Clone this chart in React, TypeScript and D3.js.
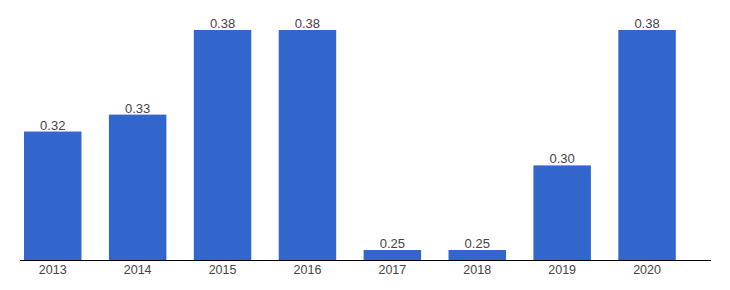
import React from "react";
import * as d3 from "d3";

const years = ["2013", "2014", "2015", "2016", "2017", "2018", "2019", "2020"];
const values = [0.32, 0.33, 0.38, 0.38, 0.25, 0.25, 0.30, 0.38];
const valueLabels = ["0.32", "0.33", "0.38", "0.38", "0.25", "0.25", "0.30", "0.38"];

export default function App() {
  const width = 730;
  const height = 290;
  const baseY = 260;
  const x = d3
    .scaleBand<string>()
    .domain(years)
    .range([10.3, 689.5])
    .paddingInner(0.323)
    .paddingOuter(0.1615);
  const y = d3.scaleLinear().domain([0.2441, 0.38]).range([baseY, 30]);

  return (
    <svg
      width={width}
      height={height}
      style={{ position: "absolute", left: 0, top: 0 }}
      fontFamily="Arial, 'Liberation Sans', sans-serif"
    >
      <rect width={width} height={height} fill="#fff" />
      {years.map((yr, i) => {
        const bx = x(yr)!;
        const top = y(values[i]);
        return (
          <g key={yr}>
            <rect x={bx} y={top} width={x.bandwidth()} height={baseY - top} fill="#3366CC" />
            <text
              x={bx + x.bandwidth() / 2}
              y={top - 2}
              textAnchor="middle"
              fontSize={13}
              fill="#444"
            >
              {valueLabels[i]}
            </text>
            <text
              x={bx + x.bandwidth() / 2}
              y={273.5}
              textAnchor="middle"
              fontSize={12.5}
              fill="#444"
            >
              {yr}
            </text>
          </g>
        );
      })}
      <line x1={20} x2={711} y1={260.5} y2={260.5} stroke="#000" strokeWidth={1.2} />
    </svg>
  );
}
